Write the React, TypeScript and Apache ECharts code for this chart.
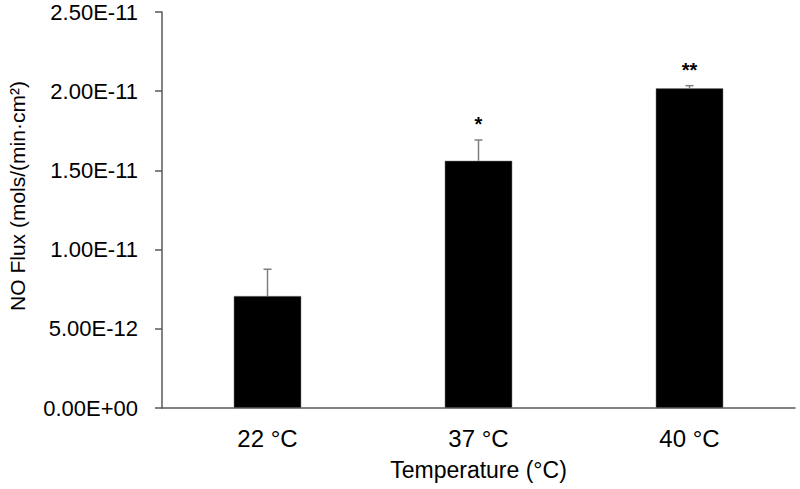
import React, { useEffect, useRef } from "react";
import * as echarts from "echarts";

const categories = ["22 °C", "37 °C", "40 °C"];
const fluxValues = [7.07e-12, 1.561e-11, 2.018e-11];
const errorTops = [8.76e-12, 1.692e-11, 2.035e-11];
const significance = ["", "*", "**"];
const yTickLabels = ["0.00E+00", "5.00E-12", "1.00E-11", "1.50E-11", "2.00E-11", "2.50E-11"];
const yTitle = "NO Flux (mols/(min·cm²)";
const xTitle = "Temperature (°C)";
const yMax = 2.5e-11;
const yStep = 5e-12;

export default function App() {
  const ref = useRef<HTMLDivElement>(null);
  useEffect(() => {
    if (!ref.current) return;
    const chart = echarts.init(ref.current, undefined, { renderer: "svg" });
    const axisColor = "#595959";
    const font = "Liberation Sans, Arial, sans-serif";
    chart.setOption({
      animation: false,
      grid: { left: 162, right: 5, top: 12, bottom: 81, containLabel: false },
      graphic: [
        {
          type: "text",
          x: 17,
          y: 196,
          rotation: Math.PI / 2,
          style: {
            text: yTitle,
            fill: "#000",
            font: "21px " + font,
            align: "center",
            verticalAlign: "middle",
          },
        },
      ],
      xAxis: {
        type: "category",
        data: categories,
        name: xTitle,
        nameLocation: "middle",
        nameGap: 50,
        nameTextStyle: { color: "#000", fontSize: 23, fontFamily: font },
        axisLine: { lineStyle: { color: axisColor, width: 1.5 } },
        axisTick: { show: false },
        axisLabel: { color: "#000", fontSize: 24, fontFamily: font, margin: 18 },
      },
      yAxis: {
        type: "value",
        min: 0,
        max: yMax,
        interval: yStep,
        splitLine: { show: false },
        axisLine: { show: true, lineStyle: { color: axisColor, width: 1.5 } },
        axisTick: { show: true, inside: false, length: 7, lineStyle: { color: axisColor, width: 1.5 } },
        axisLabel: {
          color: "#000",
          fontSize: 22,
          fontFamily: font,
          margin: 24,
          formatter: (v: number) => yTickLabels[Math.round(v / yStep)] ?? "",
        },
      },
      series: [
        {
          type: "bar",
          data: fluxValues,
          barWidth: "32%",
          itemStyle: { color: "#000", borderColor: "#808080", borderWidth: 0.5 },
          z: 2,
        },
        {
          type: "custom",
          data: fluxValues.map((v, i) => [i, v, errorTops[i]]),
          z: 3,
          renderItem: (params: any, api: any) => {
            const i = api.value(0);
            const base = api.coord([i, api.value(1)]);
            const top = api.coord([i, api.value(2)]);
            const label = significance[params.dataIndex];
            const children: any[] = [
              {
                type: "line",
                shape: { x1: base[0], y1: base[1], x2: top[0], y2: top[1] },
                style: { stroke: "#7f7f7f", lineWidth: 1.5 },
              },
              {
                type: "line",
                shape: { x1: top[0] - 4, y1: top[1], x2: top[0] + 4, y2: top[1] },
                style: { stroke: "#7f7f7f", lineWidth: 1.5 },
              },
            ];
            if (label) {
              children.push({
                type: "text",
                x: top[0],
                y: top[1] - 16,
                style: {
                  text: label,
                  fill: "#000",
                  font: "bold 20px " + font,
                  align: "center",
                  verticalAlign: "middle",
                },
              });
            }
            return { type: "group", children };
          },
        },
      ],
    });
    return () => chart.dispose();
  }, []);
  return <div ref={ref} style={{ width: 800, height: 489, position: "absolute", left: 0, top: 0 }} />;
}
